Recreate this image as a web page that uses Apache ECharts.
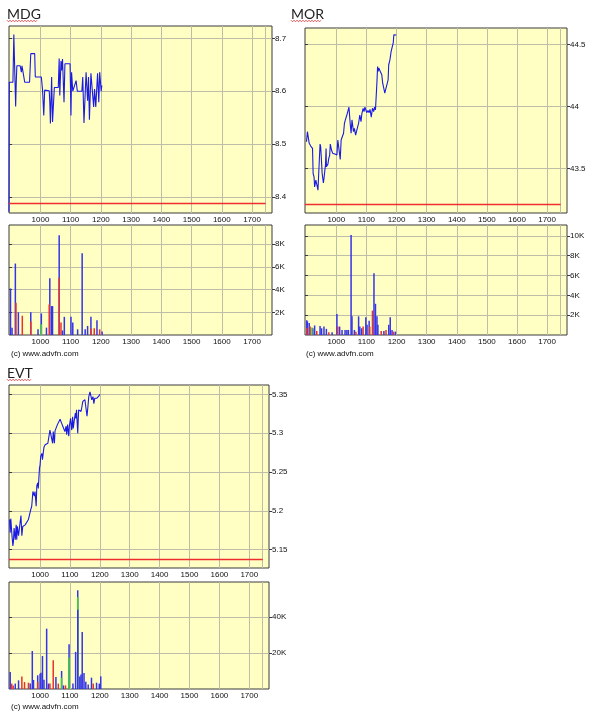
<!DOCTYPE html>
<html><head><meta charset="utf-8">
<script src="https://cdn.jsdelivr.net/npm/echarts@6/dist/echarts.min.js"></script>
<style>html,body{margin:0;padding:0;background:#fff}#c{width:594px;height:717px}</style>
</head><body><div id="c"></div>
<script>
// ---------- DATA ----------
const timeTicks = [1000,1100,1200,1300,1400,1500,1600,1700];
const sessionEnd = 1745;
const timeGridLines = [1000,1100,1200,1300,1400,1500,1600,1700,1745];

const mdgPrice = [[896,8.372],[897,8.617],[909,8.617],[912,8.707],[918,8.571],[920,8.617],[922,8.648],[933,8.648],[937,8.636],[939,8.648],[944,8.648],[948,8.617],[964,8.617],[968,8.671],[981,8.671],[983,8.627],[1003,8.627],[1007,8.602],[1011,8.554],[1014,8.602],[1029,8.601],[1031,8.579],[1033,8.539],[1037,8.627],[1040,8.542],[1046,8.607],[1059,8.607],[1062,8.662],[1064,8.592],[1068,8.657],[1070,8.639],[1073,8.661],[1078,8.579],[1081,8.652],[1098,8.652],[1101,8.554],[1103,8.636],[1107,8.6],[1118,8.62],[1122,8.6],[1137,8.6],[1140,8.627],[1144,8.54],[1151,8.636],[1156,8.582],[1159,8.627],[1162,8.546],[1167,8.634],[1176,8.57],[1179,8.604],[1183,8.57],[1189,8.634],[1193,8.579],[1196,8.636],[1201,8.6],[1203,8.611]];
const mdgRef = [8.3875];
const mdgPriceTicks = [8.4,8.5,8.6,8.7];
const mdgVolBlue = [[901,4100],[906,650],[917,6300],[927,2000],[968,2000],[992,500],[1003,1900],[1020,650],[1031,5000],[1037,2550],[1040,2550],[1062,8800],[1073,400],[1079,1600],[1101,1600],[1107,1100],[1123,500],[1138,7200],[1148,500],[1156,800],[1167,1600],[1187,1300],[1204,300]];
const mdgVolRed = [[919,2850],[940,1700],[968,1200],[1029,2700],[1062,5050],[1068,1100],[1167,600],[1178,600],[1196,500]];
const mdgVolGreen = [[1003,950]];
const mdgVolTicks = [2000,4000,6000,8000];

const morPrice = [[901,43.716],[904,43.797],[908,43.797],[910,43.703],[915,43.681],[921,43.662],[923,43.459],[926,43.432],[928,43.351],[932,43.405],[935,43.392],[937,43.351],[939,43.324],[942,43.338],[946,43.697],[948,43.676],[950,43.595],[953,43.459],[957,43.384],[959,43.419],[962,43.486],[964,43.527],[966,43.662],[967,43.514],[972,43.535],[975,43.581],[978,43.608],[980,43.697],[984,43.649],[988,43.622],[991,43.608],[995,43.616],[998,43.6],[1002,43.608],[1005,43.73],[1009,43.743],[1013,43.573],[1016,43.73],[1020,43.735],[1024,43.784],[1027,43.865],[1030,43.892],[1035,43.932],[1038,43.959],[1042,43.995],[1046,43.865],[1049,43.784],[1052,43.892],[1057,43.797],[1060,43.824],[1064,43.77],[1067,43.784],[1071,43.838],[1074,43.865],[1078,43.932],[1082,43.878],[1085,43.946],[1089,43.986],[1092,43.959],[1095,43.995],[1098,43.986],[1101,43.951],[1105,43.968],[1109,43.951],[1112,43.978],[1116,43.914],[1120,43.986],[1124,43.959],[1127,43.995],[1130,43.973],[1135,44.203],[1137,44.324],[1139,44.284],[1141,44.311],[1146,44.284],[1149,44.297],[1151,44.257],[1154,44.189],[1158,44.176],[1161,44.108],[1165,44.149],[1169,44.157],[1172,44.216],[1174,44.338],[1178,44.378],[1182,44.446],[1185,44.446],[1189,44.514],[1191,44.581],[1196,44.586],[1199,44.578]];
const morRef = [43.21];
const morPriceTicks = [43.5,44,44.5];
const morVolBlue = [[902,1500],[904,1370],[910,1200],[922,680],[928,960],[946,920],[951,680],[959,850],[967,620],[986,270],[1002,2120],[1011,850],[1019,510],[1029,510],[1035,510],[1040,510],[1049,10090],[1052,1880],[1060,510],[1074,1880],[1078,850],[1084,680],[1098,1780],[1102,1030],[1109,1440],[1125,6220],[1130,3150],[1135,1880],[1138,1030],[1158,410],[1174,1030],[1179,1780],[1185,510],[1196,340]];
const morVolRed = [[902,700],[913,850],[935,410],[975,270],[1005,850],[1065,340],[1089,850],[1111,850],[1120,2460],[1149,410],[1165,510],[1190,340]];
const morVolGreen = [[919,750]];
const morVolTicks = [2000,4000,6000,8000,10000];

const evtPrice = [[898,5.189],[900,5.172],[902,5.19],[906,5.168],[909,5.155],[911,5.161],[913,5.178],[917,5.163],[920,5.182],[922,5.163],[924,5.18],[928,5.168],[931,5.178],[936,5.194],[939,5.168],[942,5.18],[947,5.18],[950,5.182],[956,5.18],[961,5.189],[964,5.19],[969,5.202],[972,5.206],[976,5.225],[978,5.227],[981,5.219],[983,5.225],[987,5.206],[989,5.232],[992,5.236],[994,5.229],[998,5.255],[1000,5.259],[1002,5.27],[1006,5.274],[1008,5.266],[1011,5.276],[1013,5.282],[1017,5.285],[1022,5.285],[1026,5.287],[1030,5.286],[1033,5.304],[1037,5.306],[1039,5.302],[1042,5.287],[1044,5.302],[1048,5.287],[1050,5.303],[1053,5.302],[1058,5.311],[1061,5.309],[1064,5.313],[1067,5.318],[1070,5.319],[1072,5.313],[1076,5.309],[1080,5.311],[1083,5.302],[1087,5.309],[1089,5.298],[1092,5.311],[1096,5.296],[1098,5.309],[1102,5.319],[1106,5.304],[1109,5.321],[1111,5.306],[1114,5.315],[1118,5.326],[1120,5.319],[1122,5.33],[1126,5.3],[1128,5.3],[1129,5.33],[1133,5.332],[1137,5.328],[1140,5.334],[1143,5.341],[1147,5.342],[1150,5.343],[1153,5.334],[1157,5.322],[1160,5.334],[1163,5.347],[1167,5.353],[1170,5.351],[1173,5.343],[1177,5.347],[1180,5.338],[1183,5.345],[1187,5.346],[1190,5.345],[1193,5.347],[1197,5.348],[1200,5.35]];
const evtRef = [5.138];
const evtPriceTicks = [5.15,5.2,5.25,5.3,5.35];
const evtVolBlue = [[900,9400],[917,3000],[928,4800],[967,3000],[974,21100],[978,5000],[992,7600],[1000,8500],[1003,9000],[1008,18300],[1013,5200],[1022,33500],[1028,3000],[1053,6700],[1072,10000],[1078,2000],[1097,24800],[1110,3000],[1119,20600],[1126,54800],[1133,7000],[1137,8000],[1141,31700],[1147,8900],[1153,4000],[1161,2500],[1172,6300],[1189,3500],[1198,3000],[1203,7000]];
const evtVolRed = [[905,3000],[910,2000],[939,7000],[948,3900],[961,3500],[992,4000],[1033,3000],[1044,16000],[1061,3000],[1085,2000],[1178,3000]];
const evtVolGreen = [[1072,6300],[1097,17500],[1126,51000]];
const evtVolBlueLow = [[1126,44000]];
const evtVolTicks = [20000,40000];

// ---------- STYLE / LAYOUT ----------
const C = {bg:'#FFFFC4', grid:'#bdbda8', border:'#3a3a3a', line:'#1a1ae6', ref:'#ee2e2e',
  blue:'#3434ea', red:'#e83232', green:'#3ccf3c', text:'#111'};
const X_MIN = 896, X_MAX = 1766;
const FONT = 'Liberation Sans';

const grids=[], xAxes=[], yAxes=[], series=[], graphics=[];
const fmtPrice = v => String(+(+v).toFixed(3));
const fmtVol = v => (v/1000) + 'K';

function xAxisCfg(gi){
  return {gridIndex:gi, type:'value', min:X_MIN, max:X_MAX,
    axisLine:{show:false},
    axisTick:{show:false, customValues:timeGridLines},
    splitLine:{show:true, lineStyle:{color:C.grid, width:1}},
    axisLabel:{customValues:timeTicks, formatter:v=>String(v), fontSize:8, fontFamily:FONT, color:C.text, margin:3}};
}
function yAxisCfg(gi, ticks, min, max, fmt){
  return {gridIndex:gi, type:'value', position:'right', min, max, scale:true,
    axisLine:{show:false},
    axisTick:{show:true, length:3, customValues:ticks, lineStyle:{color:C.border}},
    splitLine:{show:true, lineStyle:{color:C.grid, width:1}},
    axisLabel:{customValues:ticks, formatter:fmt, fontSize:8, fontFamily:FONT, color:C.text, margin:3}};
}
function yAxisLeftTicks(gi, ticks, min, max){
  return {gridIndex:gi, type:'value', position:'left', min, max, scale:true,
    axisLine:{show:false},
    axisTick:{show:true, inside:true, length:3, customValues:ticks, lineStyle:{color:C.border}},
    splitLine:{show:false}, axisLabel:{show:false}};
}
function gridCfg(b){
  return Object.assign({show:true, backgroundColor:C.bg, borderColor:C.border, borderWidth:1, containLabel:false}, b);
}
function squiggle(x0, w, y){
  const pts=[]; let up=true;
  for(let x=x0; x<=x0+w; x+=1.5){ pts.push([x, y+(up?-0.8:0.8)]); up=!up; }
  return {type:'polyline', shape:{points:pts}, style:{stroke:'#e03030', lineWidth:0.8, fill:null}};
}

function addPanel(p){
  const gi = grids.length;
  grids.push(gridCfg(p.priceBox));
  xAxes.push(xAxisCfg(gi));
  const yi = yAxes.length;
  yAxes.push(yAxisCfg(gi, p.priceTicks, p.pMin, p.pMax, fmtPrice));
  yAxes.push(yAxisLeftTicks(gi, p.priceTicks, p.pMin, p.pMax));
  series.push({type:'line', xAxisIndex:gi, yAxisIndex:yi, data:p.price, showSymbol:false, symbol:'none',
    lineStyle:{color:C.line, width:1.1}, silent:true, z:3,
    markLine:{silent:true, symbol:'none', label:{show:false}, z:4,
      lineStyle:{color:C.ref, width:1.3, type:'solid', opacity:1},
      data:[[{coord:[X_MIN, p.ref[0]]},{coord:[sessionEnd, p.ref[0]]}]]}});
  const gv = grids.length;
  grids.push(gridCfg(p.volBox));
  xAxes.push(xAxisCfg(gv));
  const yv = yAxes.length;
  yAxes.push(yAxisCfg(gv, p.volTicks, 0, p.vMax, fmtVol));
  yAxes.push(yAxisLeftTicks(gv, p.volTicks, 0, p.vMax));
  p.vols.forEach(([data,color])=>{
    series.push({type:'bar', xAxisIndex:gv, yAxisIndex:yv, data, barWidth:1.5, barGap:'-100%',
      itemStyle:{color}, silent:true});
  });
  graphics.push({type:'text', x:p.titlePos[0], y:p.titlePos[1],
    style:{text:p.name, fontSize:14, fontFamily:'Lato', fill:'#222', verticalAlign:'middle'}});
  graphics.push(squiggle(p.titlePos[0], p.squigW, p.titlePos[1]+7));
  graphics.push({type:'text', x:p.copyPos[0], y:p.copyPos[1],
    style:{text:'(c) www.advfn.com', fontSize:8, fontFamily:FONT, fill:'#111', verticalAlign:'middle'}});
}

addPanel({name:'MDG', price:mdgPrice, ref:mdgRef, priceTicks:mdgPriceTicks, pMin:8.3697, pMax:8.7233,
  vols:[[mdgVolBlue,C.blue],[mdgVolRed,C.red],[mdgVolGreen,C.green]], volTicks:mdgVolTicks, vMax:9700,
  priceBox:{left:9, top:26, width:263, height:187}, volBox:{left:9, top:225, width:263, height:110},
  titlePos:[7,14], squigW:31, copyPos:[11,354]});
addPanel({name:'MOR', price:morPrice, ref:morRef, priceTicks:morPriceTicks, pMin:43.14, pMax:44.635,
  vols:[[morVolBlue,C.blue],[morVolRed,C.red],[morVolGreen,C.green]], volTicks:morVolTicks, vMax:11100,
  priceBox:{left:305, top:28, width:262, height:185}, volBox:{left:305, top:225, width:262, height:110},
  titlePos:[291,14], squigW:30, copyPos:[306,354]});
addPanel({name:'EVT', price:evtPrice, ref:evtRef, priceTicks:evtPriceTicks, pMin:5.1265, pMax:5.362,
  vols:[[evtVolBlue,C.blue],[evtVolRed,C.red],[evtVolGreen,C.green],[evtVolBlueLow,C.blue]], volTicks:evtVolTicks, vMax:59400,
  priceBox:{left:9, top:385, width:260, height:183}, volBox:{left:9, top:582, width:260, height:107},
  titlePos:[7,373], squigW:24, copyPos:[11,707]});

const chart = echarts.init(document.getElementById('c'), null, {renderer:'canvas'});
chart.setOption({animation:false, backgroundColor:'#fff', grid:grids, xAxis:xAxes, yAxis:yAxes, series, graphic:graphics});
</script></body></html>
